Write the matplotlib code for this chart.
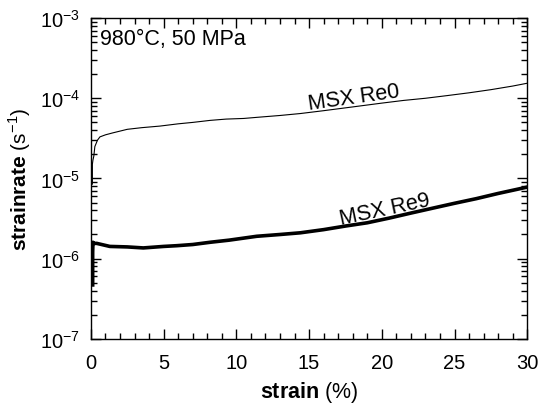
import matplotlib
matplotlib.use("Agg")
import matplotlib.pyplot as plt
from matplotlib.ticker import LogLocator, MultipleLocator, NullFormatter

plt.rcParams['font.family'] = ['Liberation Sans', 'DejaVu Sans']
plt.rcParams['mathtext.fontset'] = 'custom'
plt.rcParams['mathtext.rm'] = 'Liberation Sans'
plt.rcParams['mathtext.bf'] = 'Liberation Sans:bold'

# MSX Re0 (thin curve)
re0_strain = [0.1, 0.1, 0.14, 0.2, 0.27, 0.45, 0.62, 1.0, 1.5, 2.5, 3.5, 4.75, 6, 7, 8.2,
              9.3, 10.5, 11.5, 13, 14.4, 16, 18, 20, 21.5, 23, 24.5, 26, 27.5, 29, 30]
re0_rate = [8.5e-6, 1.5e-5, 1.7e-5, 1.9e-5, 2.5e-5, 3.0e-5, 3.3e-5, 3.5e-5, 3.7e-5, 4.1e-5,
            4.3e-5, 4.5e-5, 4.8e-5, 5.0e-5, 5.3e-5, 5.5e-5, 5.6e-5, 5.8e-5, 6.1e-5, 6.45e-5,
            7.0e-5, 7.8e-5, 8.7e-5, 9.4e-5, 1.0e-4, 1.08e-4, 1.17e-4, 1.28e-4, 1.42e-4, 1.54e-4]

# MSX Re9 (thick curve)
re9_strain = [0.12, 0.12, 0.14, 0.2, 0.4, 1.3, 2.5, 3.6, 5, 5.9, 7, 8.2, 9.5, 11.4, 13,
              14.4, 16, 17.5, 19, 20.5, 22, 23.6, 25, 26.5, 28, 30]
re9_rate = [4.7e-7, 1.2e-6, 1.6e-6, 1.55e-6, 1.55e-6, 1.42e-6, 1.4e-6, 1.36e-6, 1.42e-6,
            1.45e-6, 1.5e-6, 1.6e-6, 1.7e-6, 1.9e-6, 2.0e-6, 2.1e-6, 2.3e-6, 2.55e-6,
            2.8e-6, 3.2e-6, 3.7e-6, 4.3e-6, 4.9e-6, 5.6e-6, 6.5e-6, 7.8e-6]

fig = plt.figure(figsize=(5.38, 4.06), dpi=100)
ax = fig.add_axes([0.169, 0.163, 0.811, 0.79])

ax.plot(re0_strain, re0_rate, color='black', linewidth=0.8)
ax.plot(re9_strain, re9_rate, color='black', linewidth=2.6)

ax.set_yscale('log')
ax.set_xlim(0, 30)
ax.set_ylim(1e-7, 1e-3)
ax.xaxis.set_major_locator(MultipleLocator(5))
ax.xaxis.set_minor_locator(MultipleLocator(1))
ax.yaxis.set_major_locator(LogLocator(base=10, numticks=10))
ax.yaxis.set_minor_locator(LogLocator(base=10, subs=range(2, 10), numticks=10))
ax.yaxis.set_minor_formatter(NullFormatter())

ax.tick_params(which='both', direction='in', top=True, right=True, labelsize=14.5, width=1)
ax.tick_params(which='major', length=7)
ax.tick_params(axis='x', which='major', pad=10)
ax.tick_params(axis='y', which='major', pad=8)
ax.tick_params(which='minor', length=4)
for s in ax.spines.values():
    s.set_linewidth(1)

ax.set_xlabel(r'$\mathbf{strain}$ (%)', fontsize=15.5, labelpad=5)
ax.set_ylabel(r'$\mathbf{strainrate}$ (s$^{-1}$)', fontsize=15, labelpad=5)

ax.text(0.02, 0.935, '980°C, 50 MPa', transform=ax.transAxes, fontsize=15.5, va='center')
ax.text(18.1, 1.02e-4, 'MSX Re0', fontsize=15.5, rotation=8, ha='center', va='center')
ax.text(20.2, 4.1e-6, 'MSX Re9', fontsize=15.5, rotation=12, ha='center', va='center')

fig.savefig('out.png', dpi=100)
